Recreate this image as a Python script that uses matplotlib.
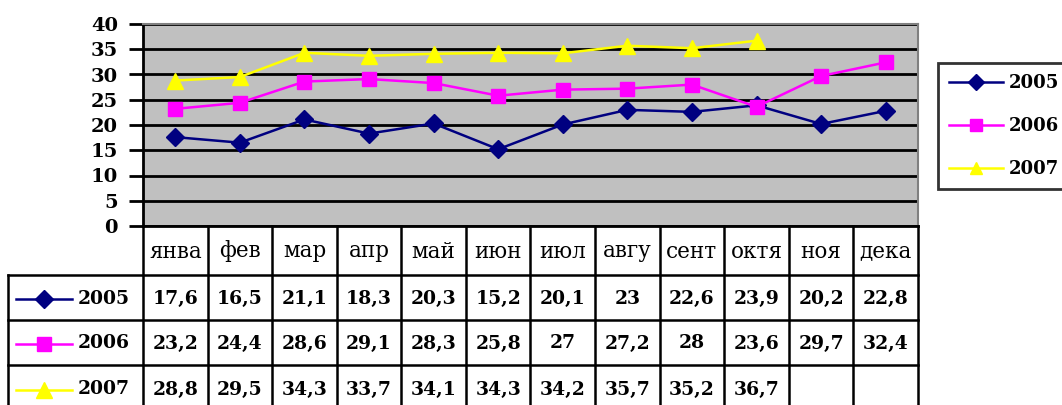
import numpy as np
import matplotlib
matplotlib.use('Agg')
import matplotlib.pyplot as plt
from matplotlib.lines import Line2D
from matplotlib.transforms import blended_transform_factory

months = ['янва', 'фев', 'мар', 'апр', 'май', 'июн', 'июл', 'авгу', 'сент', 'октя', 'ноя', 'дека']
years = ['2005', '2006', '2007']
v2005 = [17.6, 16.5, 21.1, 18.3, 20.3, 15.2, 20.1, 23, 22.6, 23.9, 20.2, 22.8]
v2006 = [23.2, 24.4, 28.6, 29.1, 28.3, 25.8, 27, 27.2, 28, 23.6, 29.7, 32.4]
v2007 = [28.8, 29.5, 34.3, 33.7, 34.1, 34.3, 34.2, 35.7, 35.2, 36.7]
series = [v2005, v2006, v2007]
colors = ['#000080', '#ff00ff', '#ffff00']
markers = ['D', 's', '^']
msizes = [9, 10, 11]
yticks = [0, 5, 10, 15, 20, 25, 30, 35, 40]

W, H = 1062, 405
plt.rcParams['font.family'] = ['DejaVu Serif']
fig = plt.figure(figsize=(W / 100, H / 100), dpi=100)

def fx(px):
    return px / W

def fy(py):
    return 1 - py / H

ax_l, ax_r, ax_t, ax_b = 143, 918, 24, 226
ax = fig.add_axes([fx(ax_l), fy(ax_b), fx(ax_r - ax_l), (ax_b - ax_t) / H])
ax.set_facecolor('#c0c0c0')
ax.set_xlim(0, 12)
ax.set_ylim(0, 40)
ax.set_yticks(yticks)
ax.set_yticklabels([str(t) for t in yticks], fontsize=14, fontweight='bold')
ax.set_xticks([])
ax.tick_params(axis='y', length=10, width=2, pad=8)
ax.grid(axis='y', color='black', linewidth=2)
ax.set_axisbelow(True)
for s in ['left', 'bottom']:
    ax.spines[s].set_linewidth(2)
    ax.spines[s].set_color('black')
for s in ['top', 'right']:
    ax.spines[s].set_linewidth(1.5)
    ax.spines[s].set_color('#808080')

x = np.arange(12) + 0.5
for vals, c, m, ms, name in zip(series, colors, markers, msizes, years):
    ax.plot(x[:len(vals)], vals, color=c, marker=m, markersize=ms, linewidth=1.8,
            markeredgecolor=c, label=name, clip_on=False, zorder=3)

# data table under the axes
tr = blended_transform_factory(ax.transData, fig.transFigure)
row_edges = [226, 275, 320, 365, 412]
left_px = 8

def hline(py, x0px, x1px):
    fig.add_artist(Line2D([fx(x0px), fx(x1px)], [fy(py), fy(py)], color='black', linewidth=1.8))

for py in row_edges[1:]:
    hline(py, left_px, ax_r)
fig.add_artist(Line2D([fx(left_px), fx(left_px)], [fy(row_edges[1]), fy(row_edges[-1])],
                      color='black', linewidth=1.8))
for k in range(13):
    fig.add_artist(Line2D([k, k], [fy(row_edges[0]), fy(row_edges[-1])], transform=tr,
                          color='black', linewidth=1.8))

def ymid(r):
    return fy((row_edges[r] + row_edges[r + 1]) / 2 + 1)

for k, mname in enumerate(months):
    fig.text(k + 0.5, ymid(0), mname, transform=tr, ha='center', va='center', fontsize=15.5)

for r, (vals, c, m, ms, name) in enumerate(zip(series, colors, markers, msizes, years)):
    yy = ymid(r + 1)
    fig.add_artist(Line2D([fx(16), fx(72)], [yy, yy], color=c, linewidth=1.8))
    fig.add_artist(Line2D([fx(44)], [yy], color=c, marker=m, markersize=ms, markeredgecolor=c))
    fig.text(fx(78), yy, name, ha='left', va='center', fontsize=13.5, fontweight='bold')
    for k, v in enumerate(vals):
        txt = ('%g' % v).replace('.', ',')
        fig.text(k + 0.5, yy, txt, transform=tr, ha='center', va='center',
                 fontsize=13.5, fontweight='bold')

leg = fig.legend(loc='upper left', bbox_to_anchor=(fx(938), fy(63)), frameon=True,
                 prop={'weight': 'bold', 'size': 13}, handlelength=3.0, markerscale=0.85,
                 borderpad=0.6, borderaxespad=0, labelspacing=1.4, handletextpad=0.3,
                 fancybox=False)
leg.get_frame().set_edgecolor('black')
leg.get_frame().set_linewidth(2)

fig.savefig('out.png', dpi=100)
